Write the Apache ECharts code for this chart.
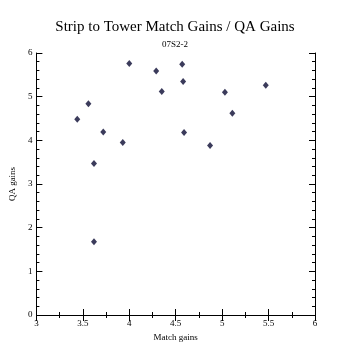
<!DOCTYPE html>
<html><head><meta charset="utf-8">
<script src="https://cdn.jsdelivr.net/npm/echarts@6/dist/echarts.min.js"></script>
<style>html,body{margin:0;padding:0;background:#fff}#c{width:350px;height:350px}</style>
</head><body><div id="c"></div>
<script>
const matchGains = [3.44, 3.56, 3.72, 3.62, 3.93, 4.00, 4.29, 4.35, 4.57, 4.58, 4.59, 4.87, 5.03, 5.11, 5.47, 3.62];
const qaGains    = [4.48, 4.84, 4.19, 3.47, 3.95, 5.76, 5.59, 5.12, 5.74, 5.35, 4.18, 3.88, 5.10, 4.62, 5.26, 1.68];
const titleText = 'Strip to Tower Match Gains / QA Gains';
const subtitleText = '07S2-2';
const xName = 'Match gains';
const yName = 'QA gains';

const font = 'Liberation Serif';
const chart = echarts.init(document.getElementById('c'), null, {renderer:'canvas'});
const axisLine = {show:true, lineStyle:{color:'#000', width:1}};
const baseAxis = {
  axisLine: axisLine,
  axisTick: {show:true, inside:true, length:6, lineStyle:{color:'#000'}},
  splitLine: {show:false},
  axisLabel: {color:'#000', fontFamily:font, fontSize:9}
};
chart.setOption({
  animation:false,
  backgroundColor:'#fff',
  title:[
    {text:titleText, left:'center', top:15, textStyle:{fontFamily:font, fontSize:15, fontWeight:'normal', color:'#000'}},
    {text:subtitleText, left:'center', top:35, textStyle:{fontFamily:font, fontSize:9, fontWeight:'normal', color:'#000'}}
  ],
  grid:{left:35, right:35, top:53, bottom:35},
  xAxis:[
    Object.assign({}, baseAxis, {type:'value', min:3, max:6, interval:0.5, position:'bottom',
      name:xName, nameLocation:'middle', nameGap:11, nameTextStyle:{fontFamily:font, fontSize:9, color:'#000'},
      minorTick:{show:true, splitNumber:2, length:3, lineStyle:{color:'#000'}},
      axisLabel:{color:'#000', fontFamily:font, fontSize:9, margin:4}}),
    Object.assign({}, baseAxis, {type:'value', min:3, max:6, interval:0.5, position:'top',
      minorTick:{show:true, splitNumber:2, length:3, lineStyle:{color:'#000'}},
      axisLabel:{show:false}})
  ],
  yAxis:[
    Object.assign({}, baseAxis, {type:'value', min:0, max:6, interval:1, position:'left',
      name:yName, nameLocation:'middle', nameGap:10, nameRotate:90, nameTextStyle:{fontFamily:font, fontSize:9, color:'#000'},
      minorTick:{show:true, splitNumber:5, length:3, lineStyle:{color:'#000'}},
      axisLabel:{color:'#000', fontFamily:font, fontSize:9, margin:4}}),
    Object.assign({}, baseAxis, {type:'value', min:0, max:6, interval:1, position:'right',
      minorTick:{show:true, splitNumber:5, length:3, lineStyle:{color:'#000'}},
      axisLabel:{show:false}})
  ],
  series:[{
    type:'scatter', xAxisIndex:0, yAxisIndex:0,
    data: matchGains.map((x,i)=>[x, qaGains[i]]),
    symbol:'diamond', symbolSize:[6,7],
    itemStyle:{color:'#0a0a32'}
  }]
});
</script></body></html>
